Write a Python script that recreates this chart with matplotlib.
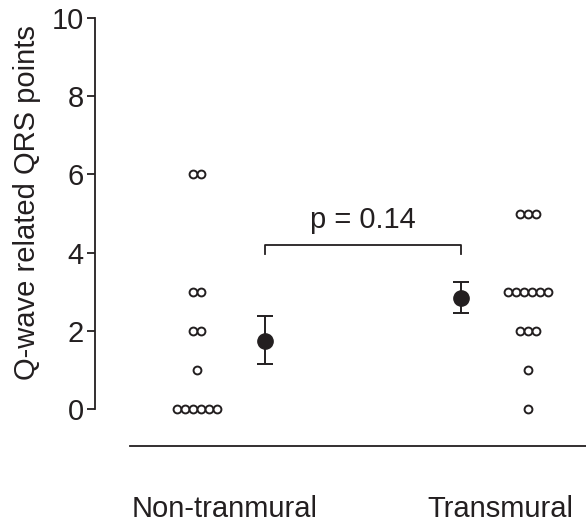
import numpy as np
import matplotlib.pyplot as plt

plt.rcParams['font.family'] = ['Liberation Sans', 'DejaVu Sans']

# data
groups = ['Non-tranmural', 'Transmural']
non_transmural = [6, 6, 3, 3, 2, 2, 1, 0, 0, 0, 0, 0, 0]
transmural = [5, 5, 5, 3, 3, 3, 3, 3, 3, 2, 2, 2, 1, 0]
means = [1.75, 2.85]
err_low = [1.15, 2.45]
err_high = [2.37, 3.25]
p_text = 'p = 0.14'

ink = '#231f20'
fs = 21
dot_pos = [0.0, 1.0]
mean_pos = [0.206, 0.797]
label_pos = [0.082, 0.918]
step = 0.0245

fig = plt.figure(figsize=(5.86, 5.25), dpi=100)
ax = fig.add_axes([0.162, 0.1505, 0.838, 0.8375])

for xc, vals in zip(dot_pos, [non_transmural, transmural]):
    vals = np.array(vals)
    xs, ys = [], []
    for v in np.unique(vals):
        n = np.sum(vals == v)
        off = (np.arange(n) - (n - 1) / 2) * step
        xs.extend(xc + off)
        ys.extend([v] * n)
    ax.scatter(xs, ys, s=32, facecolor='white', edgecolor=ink, linewidth=1.4, zorder=3)

for xm, m, lo, hi in zip(mean_pos, means, err_low, err_high):
    ax.errorbar(xm, m, yerr=[[m - lo], [hi - m]], fmt='o', ms=11, color=ink,
                ecolor=ink, elinewidth=1.4, capsize=6, capthick=1.4, zorder=3)

# significance bracket
ax.plot([mean_pos[0], mean_pos[0], mean_pos[1], mean_pos[1]],
        [3.96, 4.19, 4.19, 3.96], color=ink, lw=1.3)
ax.text(0.5, 4.62, p_text, ha='center', va='baseline', fontsize=fs, color=ink)

ax.set_xlim(-0.309, 1.176)
ax.set_ylim(-0.946, 10.3)
ax.set_yticks(np.arange(0, 11, 2))
ax.set_xticks(label_pos)
ax.set_xticklabels(groups)
ax.tick_params(axis='y', length=6, width=1.3, color=ink, labelsize=fs, labelcolor=ink, pad=2)
ax.tick_params(axis='x', length=0, labelsize=fs, labelcolor=ink, pad=35)

for s in ['top', 'right']:
    ax.spines[s].set_visible(False)
ax.spines['left'].set_bounds(0, 10)
ax.spines['bottom'].set_bounds(-0.203, 1.176)
for s in ['left', 'bottom']:
    ax.spines[s].set_linewidth(1.3)
    ax.spines[s].set_color(ink)

fig.text(27 / 586, 1 - 203 / 525, 'Q-wave related QRS points', rotation=90,
         ha='center', va='center', fontsize=fs, color=ink)

fig.savefig('out.png', dpi=100)
